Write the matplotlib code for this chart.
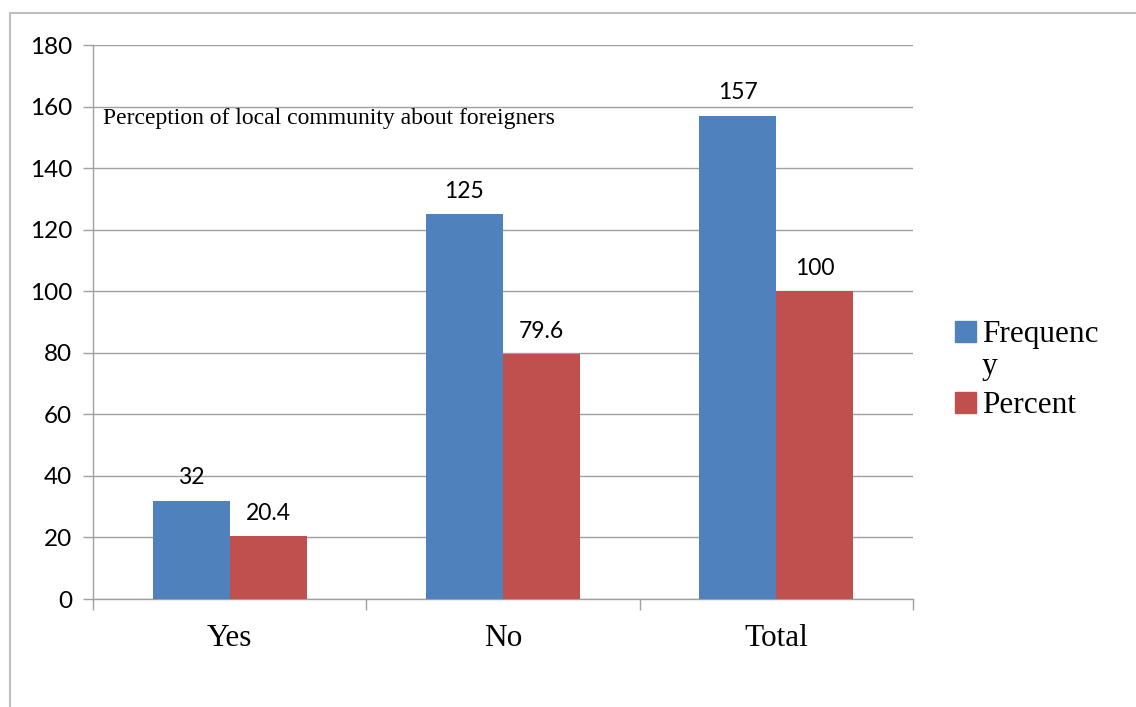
import matplotlib
matplotlib.use("Agg")
import matplotlib.pyplot as plt
import numpy as np
from matplotlib.patches import Rectangle
from matplotlib.lines import Line2D

# data
categories = ["Yes", "No", "Total"]
frequency = [32, 125, 157]
percent = [20.4, 79.6, 100]
frequency_labels = ["32", "125", "157"]
percent_labels = ["20.4", "79.6", "100"]
y_ticks = [0, 20, 40, 60, 80, 100, 120, 140, 160, 180]

blue = "#4F81BD"
red = "#C0504D"
grid_col = "#A0A0A0"

W, H = 1136, 707
fig = plt.figure(figsize=(W / 100, H / 100), dpi=100)
ax = fig.add_axes([93 / W, 1 - 599 / H, (913 - 93) / W, (599 - 45) / H])

x = np.arange(len(categories))
w = 0.282
b1 = ax.bar(x - w / 2, frequency, w, color=blue, zorder=3)
b2 = ax.bar(x + w / 2, percent, w, color=red, zorder=3)

# value labels above bars
for rect, lab in zip(b1, frequency_labels):
    ax.annotate(lab, (rect.get_x() + rect.get_width() / 2, rect.get_height()),
                xytext=(0, 9), textcoords="offset points", ha="center", va="bottom",
                fontsize=16.5, family="Lato")
for rect, lab in zip(b2, percent_labels):
    ax.annotate(lab, (rect.get_x() + rect.get_width() / 2, rect.get_height()),
                xytext=(0, 9), textcoords="offset points", ha="center", va="bottom",
                fontsize=16.5, family="Lato")

ax.set_xlim(-0.5, len(categories) - 0.5)
ax.set_ylim(0, 180)
ax.set_yticks(y_ticks)
ax.set_yticklabels([str(t) for t in y_ticks], fontsize=17.5, family="Lato")
ax.set_xticks(x)
ax.set_xticklabels(categories, fontsize=22.5, family="Liberation Serif")
ax.set_xticks(np.arange(len(categories) + 1) - 0.5, minor=True)
ax.tick_params(axis="x", which="major", length=0, pad=18)
ax.tick_params(axis="x", which="minor", length=8, color=grid_col, width=1)
ax.tick_params(axis="y", length=7, color=grid_col, width=1, pad=8)

ax.grid(axis="y", color=grid_col, linewidth=1, zorder=0)
for s in ["top", "right"]:
    ax.spines[s].set_visible(False)
for s in ["left", "bottom"]:
    ax.spines[s].set_color(grid_col)
    ax.spines[s].set_linewidth(1)

# chart title placed inside the plot
fig.text(103 / W, 1 - 124 / H, "Perception of local community about foreigners",
         fontsize=17, family="Liberation Serif", ha="left", va="baseline")

# legend drawn by hand (text wraps like the original)
sq = 21
fig.patches.append(Rectangle((955 / W, 1 - 342 / H), sq / W, sq / H,
                             transform=fig.transFigure, color=blue))
fig.patches.append(Rectangle((955 / W, 1 - 413 / H), sq / W, sq / H,
                             transform=fig.transFigure, color=red))
fig.text(982 / W, 1 - 342 / H, "Frequenc", fontsize=22.5, family="Liberation Serif",
         ha="left", va="baseline")
fig.text(982 / W, 1 - 374 / H, "y", fontsize=22.5, family="Liberation Serif",
         ha="left", va="baseline")
fig.text(982 / W, 1 - 413 / H, "Percent", fontsize=22.5, family="Liberation Serif",
         ha="left", va="baseline")

# outer chart frame (left and top edges visible)
fig.lines.append(Line2D([10 / W, 10 / W], [0, 1 - 13 / H], transform=fig.transFigure,
                        color="#BFBFBF", linewidth=1.5))
fig.lines.append(Line2D([10 / W, 1], [1 - 13 / H, 1 - 13 / H], transform=fig.transFigure,
                        color="#BFBFBF", linewidth=1.5))

fig.savefig("out.png", dpi=100)
